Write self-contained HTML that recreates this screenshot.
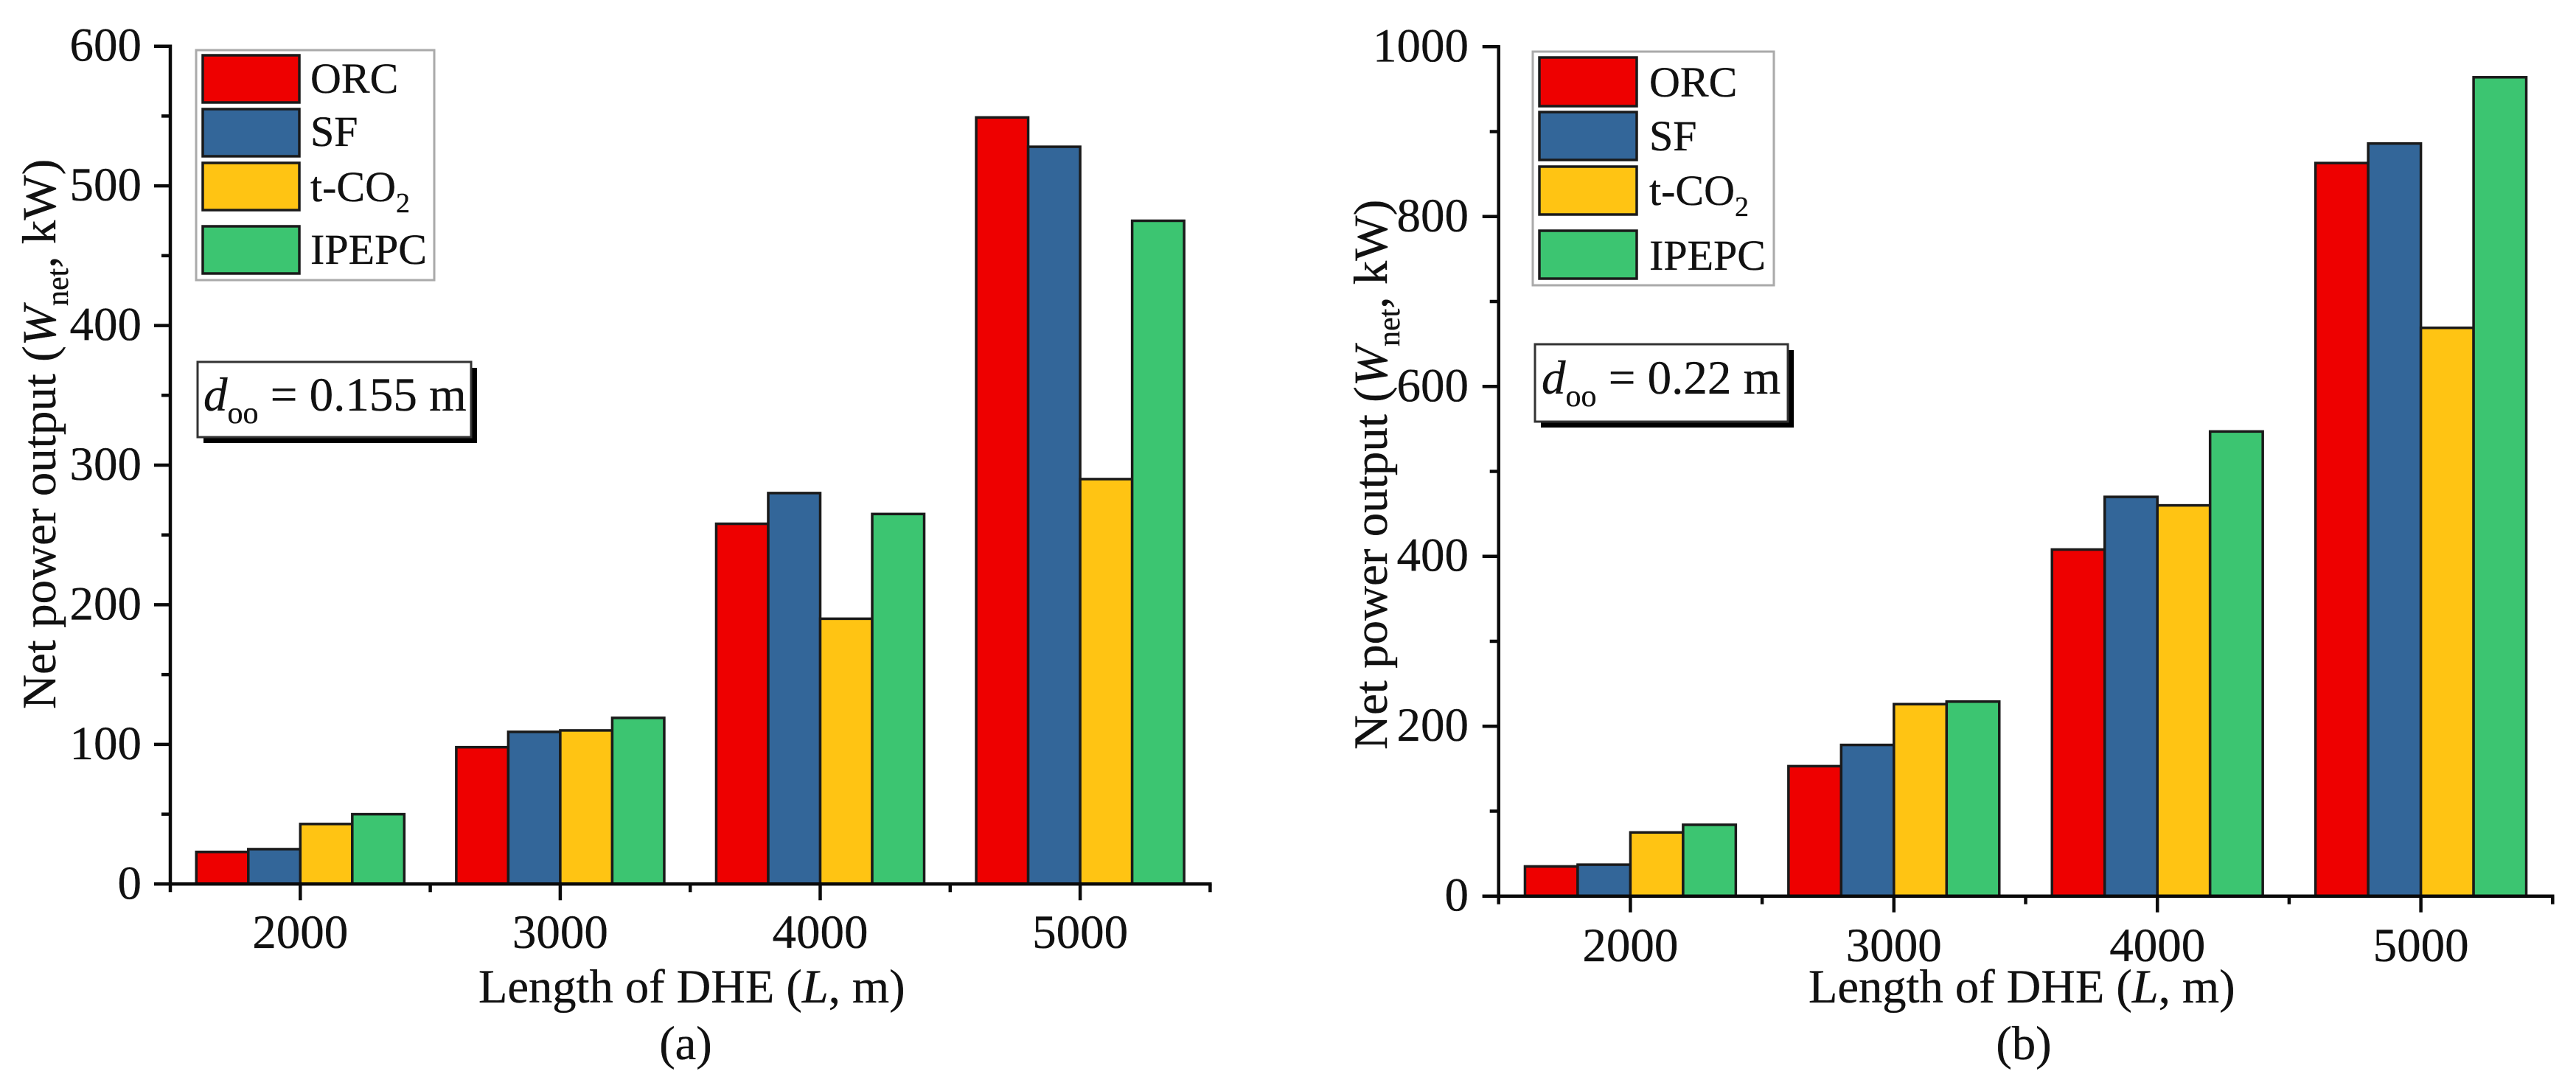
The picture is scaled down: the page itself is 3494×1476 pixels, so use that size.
<!DOCTYPE html>
<html lang="en">
<head>
<meta charset="utf-8">
<title>Net power output vs length of DHE</title>
<style>
html,body{margin:0;padding:0;background:#fff;}
svg{display:block;}
text{font-family:"Liberation Serif",serif;fill:#111;stroke:#111;stroke-width:0.35px;}
.tick{font-size:65px;}
.title{font-size:64.5px;}
.ytitle{font-size:65px;}
.legend-text{font-size:58px;}
.note{font-size:65px;}
</style>
</head>
<body>
<svg id="figure" xmlns="http://www.w3.org/2000/svg" width="3494" height="1476" viewBox="0 0 3494 1476">
  <rect width="3494" height="1476" fill="#fff"/>

  <g id="panel-a">
    <g id="marks-a"></g>
    <g id="axes-a"></g>
    <text class="ytitle" transform="translate(75,962) rotate(-90)">Net power output (<tspan font-style="italic">W</tspan><tspan font-size="42" dy="17">net</tspan><tspan dy="-17">, kW)</tspan></text>
    <text class="title" x="649" y="1360">Length of DHE (<tspan font-style="italic">L</tspan>, m)</text>
    <text class="title" x="930" y="1437" text-anchor="middle">(a)</text>

    <g>
      <rect x="266" y="68" width="323" height="312" fill="#fff" stroke="#aaa" stroke-width="3"/>
      <rect x="275" y="75" width="131" height="64" fill="#EE0000" stroke="#1a1a1a" stroke-width="3.5"/>
      <rect x="275" y="148" width="131" height="64" fill="#336699" stroke="#1a1a1a" stroke-width="3.5"/>
      <rect x="275" y="221" width="131" height="64" fill="#FFC413" stroke="#1a1a1a" stroke-width="3.5"/>
      <rect x="275" y="307" width="131" height="64" fill="#3CC571" stroke="#1a1a1a" stroke-width="3.5"/>
      <text class="legend-text" x="421" y="126">ORC</text>
      <text class="legend-text" x="421" y="198">SF</text>
      <text class="legend-text" x="421" y="273">t-CO<tspan font-size="38" dy="15">2</tspan></text>
      <text class="legend-text" x="421" y="358">IPEPC</text>
    </g>

    <g>
      <rect x="276" y="499" width="371" height="102" fill="#000"/>
      <rect x="268" y="491" width="371" height="102" fill="#fff" stroke="#333" stroke-width="3"/>
      <text class="note" x="276" y="557"><tspan font-style="italic">d</tspan><tspan font-size="42" dy="17">oo</tspan><tspan dy="-17"> = 0.155 m</tspan></text>
    </g>
  </g>

  <g id="panel-b">
    <g id="marks-b"></g>
    <g id="axes-b"></g>
    <text class="ytitle" transform="translate(1881,1017) rotate(-90)">Net power output (<tspan font-style="italic">W</tspan><tspan font-size="42" dy="17">net</tspan><tspan dy="-17">, kW)</tspan></text>
    <text class="title" x="2453" y="1360">Length of DHE (<tspan font-style="italic">L</tspan>, m)</text>
    <text class="title" x="2745" y="1437" text-anchor="middle">(b)</text>

    <g>
      <rect x="2079" y="70" width="327" height="317" fill="#fff" stroke="#aaa" stroke-width="3"/>
      <rect x="2088" y="78" width="132" height="66" fill="#EE0000" stroke="#1a1a1a" stroke-width="3.5"/>
      <rect x="2088" y="152" width="132" height="65" fill="#336699" stroke="#1a1a1a" stroke-width="3.5"/>
      <rect x="2088" y="226" width="132" height="65" fill="#FFC413" stroke="#1a1a1a" stroke-width="3.5"/>
      <rect x="2088" y="313" width="132" height="65" fill="#3CC571" stroke="#1a1a1a" stroke-width="3.5"/>
      <text class="legend-text" x="2237" y="131">ORC</text>
      <text class="legend-text" x="2237" y="204">SF</text>
      <text class="legend-text" x="2237" y="278">t-CO<tspan font-size="38" dy="15">2</tspan></text>
      <text class="legend-text" x="2237" y="366">IPEPC</text>
    </g>

    <g>
      <rect x="2090" y="475" width="343" height="105" fill="#000"/>
      <rect x="2082" y="467" width="343" height="105" fill="#fff" stroke="#333" stroke-width="3"/>
      <text class="note" x="2091" y="534"><tspan font-style="italic">d</tspan><tspan font-size="42" dy="17">oo</tspan><tspan dy="-17"> = 0.22 m</tspan></text>
    </g>
  </g>
</svg>

<script>
var categories = [2000, 3000, 4000, 5000];
var seriesNames = ["orc", "sf", "tco2", "ipepc"];

var orcA = [23, 98, 258, 549];
var sfA = [25, 109, 280, 528];
var tco2A = [43, 110, 190, 290];
var ipepcA = [50, 119, 265, 475];

var orcB = [35, 153, 408, 863];
var sfB = [37, 178, 470, 886];
var tco2B = [75, 226, 460, 669];
var ipepcB = [84, 229, 547, 964];

var yTicksA = [0, 100, 200, 300, 400, 500, 600];
var yTicksB = [0, 200, 400, 600, 800, 1000];

var fillColors = ["#EE0000", "#336699", "#FFC413", "#3CC571"];

var SVG_NS = "http://www.w3.org/2000/svg";

function line(parent, x1, y1, x2, y2, width) {
  var el = document.createElementNS(SVG_NS, "line");
  el.setAttribute("x1", x1);
  el.setAttribute("y1", y1);
  el.setAttribute("x2", x2);
  el.setAttribute("y2", y2);
  el.setAttribute("stroke", "#0a0a0a");
  el.setAttribute("stroke-width", width);
  parent.appendChild(el);
  return el;
}

function label(parent, x, y, anchor, str) {
  var el = document.createElementNS(SVG_NS, "text");
  el.setAttribute("class", "tick");
  el.setAttribute("x", x);
  el.setAttribute("y", y);
  el.setAttribute("text-anchor", anchor);
  el.textContent = str;
  parent.appendChild(el);
  return el;
}

function drawPanel(panel, series, yTicks, box) {
  var marks = document.getElementById("marks-" + panel);
  var axes = document.getElementById("axes-" + panel);
  var yMax = yTicks[yTicks.length - 1];

  function yScale(v) {
    return box.bottom - (v / yMax) * (box.bottom - box.top);
  }
  function xScale(i) {
    return box.left + (i + 0.5) * box.step;
  }

  var barWidth = box.step * 0.2;
  series.forEach(function (values, s) {
    values.forEach(function (v, i) {
      var bar = document.createElementNS(SVG_NS, "rect");
      
      
      bar.setAttribute("x", xScale(i) + (s - 2) * barWidth);
      bar.setAttribute("y", yScale(v));
      bar.setAttribute("width", barWidth);
      bar.setAttribute("height", box.bottom - yScale(v));
      bar.setAttribute("fill", fillColors[s]);
      bar.setAttribute("stroke", "#1a1a1a");
      bar.setAttribute("stroke-width", "3.5");
      marks.appendChild(bar);
    });
  });

  var right = box.left + categories.length * box.step;

  var yAxis = line(axes, box.left, box.top - 2.2, box.left, box.bottom + 11, 4.5);
  
  

  var xAxis = line(axes, box.left - 22, box.bottom, right + 2.2, box.bottom, 4.5);
  
  

  yTicks.forEach(function (t, i) {
    var y = yScale(t);
    var tick = line(axes, box.left - 22, y, box.left, y, 4.5);
    
    

    var text = label(axes, box.labelRight, y + 20, "end", String(t));
    
    

    if (i < yTicks.length - 1) {
      var midY = yScale((t + yTicks[i + 1]) / 2);
      var minor = line(axes, box.left - 12, midY, box.left, midY, 4.5);
      
      
    }
  });

  categories.forEach(function (c, i) {
    var x = xScale(i);
    var tick = line(axes, x, box.bottom, x, box.bottom + 22, 4.5);
    
    

    var text = label(axes, x, box.xLabelY, "middle", String(c));
    
    

    var edge = box.left + (i + 1) * box.step;
    var minor = line(axes, edge, box.bottom, edge, box.bottom + 11, 4.5);
    
    
  });
}

drawPanel("a", [orcA, sfA, tco2A, ipepcA], yTicksA,
  { left: 231, top: 62.7, bottom: 1199.3, step: 352.6, labelRight: 192, xLabelY: 1286 });
drawPanel("b", [orcB, sfB, tco2B, ipepcB], yTicksB,
  { left: 2032.7, top: 63.3, bottom: 1215.7, step: 357.4, labelRight: 1992, xLabelY: 1304 });
</script>
</body>
</html>
